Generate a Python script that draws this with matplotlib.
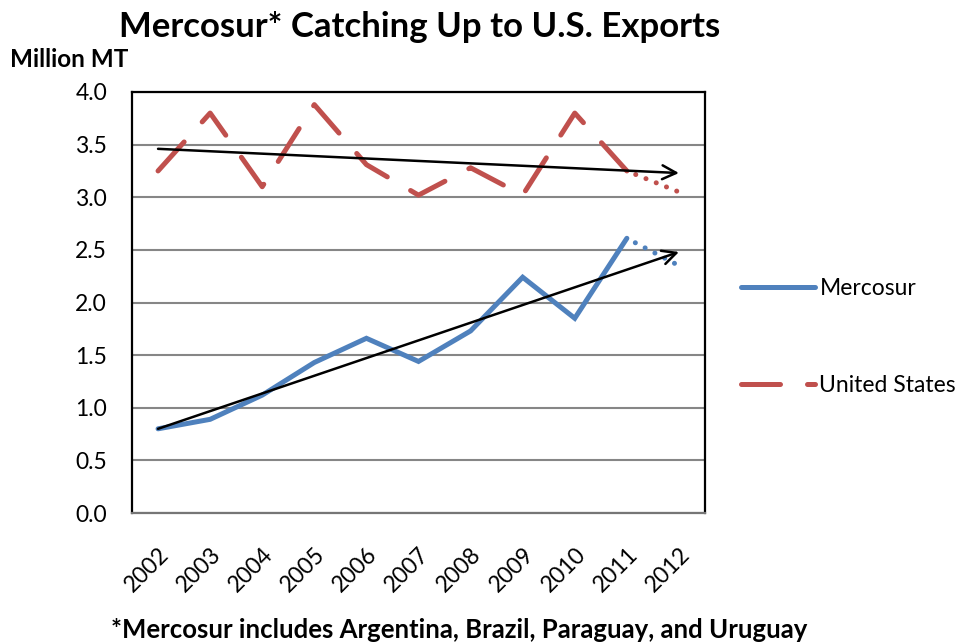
import numpy as np
import matplotlib.pyplot as plt
from matplotlib.lines import Line2D

plt.rcParams['font.family'] = ['Lato', 'DejaVu Sans']

# Data (million metric tons)
years = ['2002', '2003', '2004', '2005', '2006', '2007',
         '2008', '2009', '2010', '2011', '2012']
mercosur = [0.80, 0.89, 1.12, 1.43, 1.66, 1.44, 1.73, 2.24, 1.85, 2.61, 2.35]
united_states = [3.25, 3.80, 3.10, 3.88, 3.31, 3.02, 3.28, 3.02, 3.80, 3.25, 3.05]

# hand-drawn trend arrows: (start year, start value, end year, end value)
merc_trend = [0, 0.80, 10, 2.48]
us_trend = [0, 3.46, 10, 3.23]

blue = '#4F81BD'
red = '#C0504D'

fig = plt.figure(figsize=(9.68, 6.43), dpi=100)
ax = fig.add_axes([132 / 968, 1 - 513 / 643, (705 - 132) / 968, (513 - 92) / 643])

x = np.arange(len(years))
lw = 3.6

# solid / dashed part up to 2011, dotted projection to 2012
ax.plot(x[:10], mercosur[:10], color=blue, lw=lw, solid_capstyle='round',
        solid_joinstyle='miter', zorder=3)
ax.plot(x[9:], mercosur[9:], color=blue, lw=lw, linestyle=(0.3, (0.01, 2.2)),
        dash_capstyle='round', zorder=3)
ax.plot(x[:10], united_states[:10], color=red, lw=lw, linestyle=(0, (7.8, 5.4)),
        dash_capstyle='round', zorder=3)
ax.plot(x[9:], united_states[9:], color=red, lw=lw, linestyle=(0.3, (0.01, 2.2)),
        dash_capstyle='round', zorder=3)

for t in (merc_trend, us_trend):
    ax.annotate('', xy=(t[2], t[3]), xytext=(t[0], t[1]),
                arrowprops=dict(arrowstyle='->,head_length=1.0,head_width=0.5',
                                color='black', lw=1.8, shrinkA=0, shrinkB=0),
                zorder=4)

ax.set_xlim(-0.5, len(years) - 0.5)
ax.set_ylim(0, 4.0)
ax.set_yticks(np.arange(0, 4.01, 0.5))
ax.set_yticklabels([f'{v:.1f}' for v in np.arange(0, 4.01, 0.5)], fontsize=16.5)
ax.set_xticks(x)
ax.set_xticklabels(years, fontsize=16.5, rotation=45, ha='right',
                   rotation_mode='anchor')
ax.tick_params(axis='both', length=0)
ax.tick_params(axis='y', pad=18)
ax.tick_params(axis='x', pad=22)
ax.grid(axis='y', color='#868686', lw=1.5, zorder=0)

for side in ['top', 'left', 'right']:
    ax.spines[side].set_color('black')
    ax.spines[side].set_linewidth(1.6)
ax.spines['bottom'].set_color('#767676')
ax.spines['bottom'].set_linewidth(1.6)

handles = [Line2D([], [], color=blue, lw=lw, solid_capstyle='round'),
           Line2D([], [], color=red, lw=lw, linestyle=(0, (7.8, 5.4)),
                  dash_capstyle='round')]
fig.legend(handles, ['Mercosur', 'United States'], loc='center left',
           bbox_to_anchor=(0.766, 0.476), frameon=False, fontsize=16.5,
           handlelength=3.2, handletextpad=0.2, labelspacing=3.3, borderpad=0,
           borderaxespad=0)

fig.text(0.433, 0.958, 'Mercosur* Catching Up to U.S. Exports', ha='center',
         va='center', fontsize=25, fontweight='bold')
fig.text(0.010, 0.907, 'Million MT', ha='left', va='center', fontsize=17.5,
         fontweight='bold')
fig.text(0.474, 0.02, '*Mercosur includes Argentina, Brazil, Paraguay, and Uruguay',
         ha='center', va='center', fontsize=18.5, fontweight='bold')

fig.savefig('out.png', dpi=100)
